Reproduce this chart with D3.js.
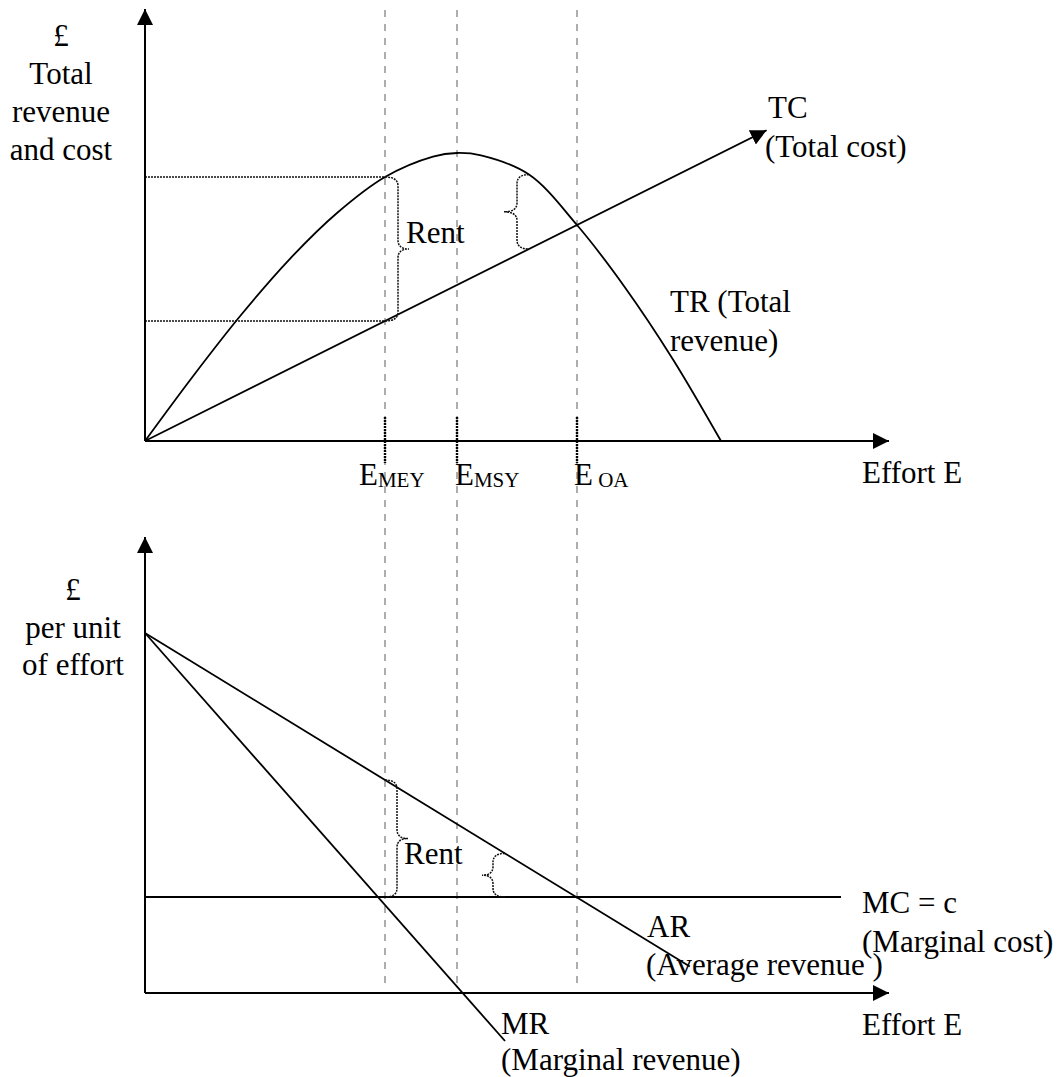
<!DOCTYPE html>
<html>
<head>
<meta charset="utf-8">
<script src="https://cdn.jsdelivr.net/npm/d3@7"></script>
<style>
  html, body { margin: 0; padding: 0; background: #fff; }
  svg text { font-family: "Liberation Serif", "Times New Roman", "DejaVu Serif", serif; fill: #000; }
</style>
</head>
<body>
<svg id="chart" width="1062" height="1077"></svg>
<script>
// ---------------- data ----------------
const trEffort = [0, 2, 4, 6, 8, 10, 12, 13, 14, 16, 18, 20, 22, 24];
const trValue  = [0, 2.7, 5.25, 7.55, 9.5, 11.0, 11.85, 12.0, 11.9, 11.1, 9.0, 6.4, 3.4, 0];
const tcEffort = [0, 25.9];
const tcValue  = [0, 12.95];
const arEffort = [0, 22.7];
const arValue  = [15, 1.1];
const mrEffort = [0, 15];
const mrValue  = [15, -2];
const mcEffort = [0, 29];
const mcValue  = [4, 4];
const markerEffort = [10, 13, 18];
const markerMain = ["E", "E", "E"];
const markerSub  = ["MEY", "MSY", " OA"];
const topRentBraces = [10, 16];
const bottomRentBraces = [10, 15];
const topYLabel = ["£", "Total", "revenue", "and cost"];
const bottomYLabel = ["£", "per unit", "of effort"];

// ---------------- scales ----------------
const x = d3.scaleLinear().domain([0, 31]).range([145, 889]);
const yTop = d3.scaleLinear().domain([0, 18]).range([441, 9]);
const yBot = d3.scaleLinear().domain([0, 19]).range([993, 537]);

const FONT = '"Liberation Serif", "Times New Roman", "DejaVu Serif", serif';
const FS = 31;

const svg = d3.select("#chart");
const defs = svg.append("defs");
defs.append("marker")
  .attr("id", "arrow").attr("viewBox", "0 0 10 10")
  .attr("refX", 10).attr("refY", 5)
  .attr("markerUnits", "userSpaceOnUse")
  .attr("markerWidth", 16).attr("markerHeight", 16)
  .attr("orient", "auto")
  .append("path").attr("d", "M0,0L10,5L0,10Z").attr("fill", "#000");

function lin(es, vs, e) {
  return vs[0] + (vs[1] - vs[0]) * (e - es[0]) / (es[1] - es[0]);
}
function trAt(e) {
  for (let i = 0; i < trEffort.length - 1; i++) {
    if (e >= trEffort[i] && e <= trEffort[i + 1]) {
      return trValue[i] + (trValue[i + 1] - trValue[i]) * (e - trEffort[i]) / (trEffort[i + 1] - trEffort[i]);
    }
  }
  return 0;
}

// ---------------- dashed guides ----------------
markerEffort.forEach(e => {
  svg.append("line")
    .attr("x1", x(e)).attr("x2", x(e))
    .attr("y1", 10).attr("y2", 987)
    .attr("stroke", "#9a9a9a").attr("stroke-width", 1.6)
    .attr("stroke-dasharray", "7,7");
});

// ---------------- top panel ----------------
const gT = svg.append("g");

[trAt(markerEffort[0]), lin(tcEffort, tcValue, markerEffort[0])].forEach(v => {
  gT.append("line")
    .attr("x1", x(0)).attr("x2", x(markerEffort[0]))
    .attr("y1", yTop(v)).attr("y2", yTop(v))
    .attr("stroke", "#111").attr("stroke-width", 1.4)
    .attr("stroke-dasharray", "2,1");
});

gT.append("line").attr("x1", x(0)).attr("y1", yTop(0)).attr("x2", x(0)).attr("y2", yTop(18))
  .attr("stroke", "#000").attr("stroke-width", 2).attr("marker-end", "url(#arrow)");
gT.append("line").attr("x1", x(0)).attr("y1", yTop(0)).attr("x2", x(31)).attr("y2", yTop(0))
  .attr("stroke", "#000").attr("stroke-width", 2).attr("marker-end", "url(#arrow)");

const trLine = d3.line().x(d => x(d[0])).y(d => yTop(d[1])).curve(d3.curveCatmullRom.alpha(0.5));
gT.append("path").attr("d", trLine(trEffort.map((e, i) => [e, trValue[i]])))
  .attr("fill", "none").attr("stroke", "#000").attr("stroke-width", 1.8);

gT.append("line")
  .attr("x1", x(tcEffort[0])).attr("y1", yTop(tcValue[0]))
  .attr("x2", x(tcEffort[1])).attr("y2", yTop(tcValue[1]))
  .attr("stroke", "#000").attr("stroke-width", 1.8).attr("marker-end", "url(#arrow)");

markerEffort.forEach(e => {
  gT.append("line").attr("x1", x(e)).attr("x2", x(e))
    .attr("y1", yTop(0) - 24).attr("y2", yTop(0) + 22)
    .attr("stroke", "#000").attr("stroke-width", 2.4).attr("stroke-dasharray", "2,1");
});

function brace(g, xAttach, xVert, xTip, yA, yB) {
  const p = d3.path();
  const ym = (yA + yB) / 2;
  const r = Math.min(9, Math.abs(yB - yA) / 5);
  p.moveTo(xAttach, yA);
  p.quadraticCurveTo(xVert, yA, xVert, yA + r);
  p.lineTo(xVert, ym - r);
  p.quadraticCurveTo(xVert, ym, xTip, ym);
  p.quadraticCurveTo(xVert, ym, xVert, ym + r);
  p.lineTo(xVert, yB - r);
  p.quadraticCurveTo(xVert, yB, xAttach, yB);
  g.append("path").attr("d", p.toString())
    .attr("fill", "none").attr("stroke", "#111").attr("stroke-width", 1.5)
    .attr("stroke-dasharray", "2,1");
}

{
  const e0 = topRentBraces[0];
  brace(gT, x(e0), x(e0) + 13, x(e0) + 24, yTop(trAt(e0)), yTop(lin(tcEffort, tcValue, e0)));
  const e1 = topRentBraces[1];
  brace(gT, x(e1), x(e1) - 12, x(e1) - 25, yTop(trAt(e1)), yTop(lin(tcEffort, tcValue, e1)));
}

function txt(g, s, px, py, anchor) {
  return g.append("text").attr("x", px).attr("y", py)
    .attr("font-family", FONT)
    .attr("font-size", FS).attr("text-anchor", anchor || "start").text(s);
}
topYLabel.forEach((s, i) => txt(gT, s, 61, 46 + i * 38, "middle"));
txt(gT, "TC", 768, 118);
txt(gT, "(Total cost)", 765, 157);
txt(gT, "TR (Total", 670, 312);
txt(gT, "revenue)", 670, 351);
txt(gT, "Rent", 406, 243);
txt(gT, "Effort E", 862, 483);

const labOffsets = [-26, -2, -3];
markerEffort.forEach((e, i) => {
  const t = gT.append("text").attr("x", x(e) + labOffsets[i]).attr("y", 485)
    .attr("font-family", FONT)
    .attr("font-size", FS).attr("xml:space", "preserve");
  t.append("tspan").text(markerMain[i]);
  t.append("tspan").attr("font-size", 21).attr("dy", 2).text(markerSub[i]);
});

// ---------------- bottom panel ----------------
const gB = svg.append("g");

gB.append("line").attr("x1", x(0)).attr("y1", yBot(0)).attr("x2", x(0)).attr("y2", yBot(19))
  .attr("stroke", "#000").attr("stroke-width", 2).attr("marker-end", "url(#arrow)");
gB.append("line").attr("x1", x(0)).attr("y1", yBot(0)).attr("x2", x(31)).attr("y2", yBot(0))
  .attr("stroke", "#000").attr("stroke-width", 2).attr("marker-end", "url(#arrow)");

[[arEffort, arValue], [mrEffort, mrValue], [mcEffort, mcValue]].forEach(([es, vs]) => {
  gB.append("line")
    .attr("x1", x(es[0])).attr("y1", yBot(vs[0]))
    .attr("x2", x(es[1])).attr("y2", yBot(vs[1]))
    .attr("stroke", "#000").attr("stroke-width", 1.8);
});

{
  const e0 = bottomRentBraces[0];
  brace(gB, x(e0), x(e0) + 12, x(e0) + 23, yBot(lin(arEffort, arValue, e0)), yBot(mcValue[0]));
  const e1 = bottomRentBraces[1];
  brace(gB, x(e1), x(e1) - 12, x(e1) - 23, yBot(lin(arEffort, arValue, e1)), yBot(mcValue[0]));
}

bottomYLabel.forEach((s, i) => txt(gB, s, 73, 600 + i * 37.5, "middle"));
txt(gB, "Rent", 404, 864);
txt(gB, "MC = c", 862, 913);
txt(gB, "(Marginal cost)", 862, 952);
txt(gB, "AR", 647, 937);
txt(gB, "(Average revenue )", 646, 975).attr("xml:space", "preserve");
txt(gB, "MR", 501, 1034);
txt(gB, "(Marginal revenue)", 501, 1070);
txt(gB, "Effort E", 862, 1035);
</script>
</body>
</html>
